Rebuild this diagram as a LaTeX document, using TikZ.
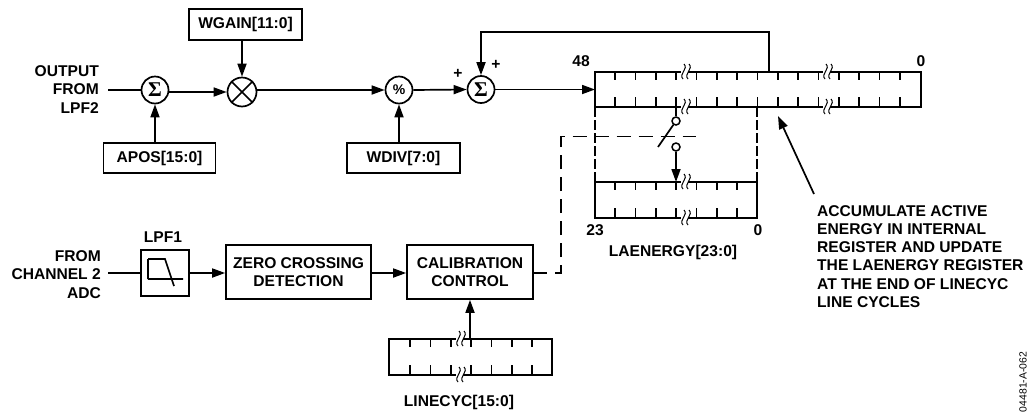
\documentclass[tikz,border=0pt]{standalone}
\usepackage{fontspec}
\setmainfont{Liberation Sans}
\newfontfamily\sigfont{Liberation Serif}
\usetikzlibrary{arrows.meta}
\tikzset{
  x=1pt,y=-1pt,
  wire/.style={line width=1.7pt,line cap=butt},
  flow/.style={wire,-{Triangle[length=13pt,width=9pt]}},
  dash line/.style={line width=1.1pt,dash pattern=on 14pt off 8pt},
  reg dash/.style={line width=1.6pt,dash pattern=on 10pt off 3pt},
  boxnode/.style={draw,line width=1.7pt,fill=white,inner sep=0pt,align=center,font=\lab},
  opnode/.style={draw,circle,line width=1.7pt,fill=white,inner sep=0pt,minimum size=27pt,font=\lab},
  txt/.style={inner sep=0pt,font=\lab},
  rtxt/.style={txt,align=right,anchor=east},
}
\newcommand{\lab}{\fontsize{15.6}{18.2}\selectfont\bfseries}
\newcommand{\sigsym}{{\sigfont\bfseries\fontsize{21}{21}\selectfont Σ}}
\newcommand{\regticks}[5]{% x first, y top, y bot, n, step
  \foreach \i in {0,...,#4}{
    \draw[wire] ({#1+\i*#5},#2) -- ++(0,8);
    \draw[wire] ({#1+\i*#5},#3) -- ++(0,-10);
  }}
\newcommand{\squig}[2]{% centre
  \fill[white] (#1-4,#2-7) rectangle (#1+3,#2+7);
  \draw[line width=1pt] (#1-1,#2-8) .. controls (#1+4,#2-3) and (#1-7,#2+2) .. (#1-2,#2+7);
  \draw[line width=1pt] (#1+4,#2-8) .. controls (#1+9,#2-3) and (#1-2,#2+2) .. (#1+3,#2+7);
}
\begin{document}
\begin{tikzpicture}
\useasboundingbox (0,0) rectangle (1028,413);
% operators
\node[opnode] (s1) at (155,90) {\sigsym};
\node[opnode,minimum size=29pt] (mul) at (242,92) {};
\draw[wire] (mul.north west) -- (mul.south east) (mul.north east) -- (mul.south west);
\node[opnode] (pct) at (399,90) {\fontsize{14}{14}\selectfont\bfseries \%};
\node[opnode] (s2) at (481,89.5) {\sigsym};
% boxes
\node[boxnode,minimum width=113pt,minimum height=31pt] (wgain) at (245.5,24.5) {WGAIN[11:0]};
\node[boxnode,minimum width=112pt,minimum height=30pt] (apos) at (159.5,158) {APOS[15:0]};
\node[boxnode,minimum width=113pt,minimum height=30pt] (wdiv) at (403.5,158) {WDIV[7:0]};
\node[boxnode,minimum width=48pt,minimum height=46pt] (lpf) at (165,273) {};
\node[boxnode,minimum width=145pt,minimum height=54pt] (zero) at (298.5,272) {ZERO CROSSING\\DETECTION};
\node[boxnode,minimum width=126pt,minimum height=54pt] (cal) at (470,272) {CALIBRATION\\CONTROL};
% filter icon
\draw[wire] (148,259) -- (148,279) (148,279) -- (183,279) (148,259) -- (165,259) -- (174,286);
% registers (frames)
\coordinate (rtl) at (595,72); \coordinate (rtr) at (921,72);
\coordinate (rbl) at (595,107); \coordinate (rbr) at (921,107);
\coordinate (rbm) at (757,107);
\draw[wire] (rtl) -- (rtr) -- (rbr) -- (rbl) -- cycle;
\regticks{615}{72}{107}{14}{20.35}
\coordinate (ltl) at (595,182); \coordinate (ltr) at (757,182);
\coordinate (lbl) at (595,218); \coordinate (lbr) at (757,218);
\draw[wire] (ltl) -- (ltr) -- (lbr) -- (lbl) -- cycle;
\regticks{615}{182}{218}{6}{20.35}
\coordinate (cn) at (470,339);
\draw[wire] (389,339) rectangle (552,375);
\regticks{410}{339}{375}{6}{20.35}
\squig{685}{72}\squig{685}{107}\squig{827}{72}\squig{827}{107}
\squig{685}{182}\squig{685}{218}
\squig{460}{339}\squig{460}{375}
% connectors
\coordinate (in1) at (108,90);
\draw[wire] (in1) -- (s1);
\draw[flow] (s1.east |- mul.west) -- (mul.west);
\draw[flow] (apos.north -| s1.south) -- (s1.south);
\draw[flow] (wgain.south -| mul.north) -- (mul.north);
\draw[flow] (mul.east |- pct.west) -- (pct.west);
\draw[flow] (wdiv.north -| pct.south) -- (pct.south);
\draw[flow] (pct.east) -- (s2.west);
\coordinate (regin) at (595,89.5);
\draw[flow] (s2.east) -- (regin);
\coordinate (fb) at (769,72);
\draw[flow] (fb) -- (769,32) -- (481,32) -- (s2.north);
\coordinate (in2) at (108,273);
\draw[wire] (in2) -- (lpf.west |- in2);
\draw[flow] (lpf.east |- in2) -- (zero.west |- in2);
\draw[flow] (zero.east |- in2) -- (cal.west |- in2);
\draw[flow] (cn) -- (cal.south -| cn);
% switch
\node[draw,circle,line width=1.5pt,fill=white,inner sep=0pt,minimum size=8pt] (swa) at (676,121) {};
\node[draw,circle,line width=1.5pt,fill=white,inner sep=0pt,minimum size=8pt] (swb) at (676,147) {};
\coordinate (tap) at (676,107);
\coordinate (armend) at (658,147);
\draw[wire] (tap) -- (swa);
\draw[wire] (swa) -- (armend);
\draw[flow] (swb) -- (676,182);
% dashed
\draw[reg dash] (rbl) -- (ltl);
\draw[reg dash] (rbm) -- (ltr);
\coordinate (d0) at (533,273);
\coordinate (d3) at (696,136.5);
\draw[dash line] (d0) -- (561,273) -- (561,136.5) -- (d3);
% annotation arrow
\coordinate (a0) at (814,194); \coordinate (a1) at (778,116);
\draw[flow] (a0) -- (a1);
% labels
\node[rtxt] (t1) at (99,89.5) {OUTPUT\\FROM\\LPF2};
\node[rtxt] (t2) at (101,274.5) {FROM\\CHANNEL 2\\ADC};
\node[txt] (t3) at (163,237) {LPF1};
\node[txt] (t4) at (581,61) {48};
\node[txt] (t5) at (921,61) {0};
\node[txt] (t6) at (595,230) {23};
\node[txt] (t7) at (758,230) {0};
\node[txt] (t8) at (673,252) {LAENERGY[23:0]};
\node[txt] (t9) at (459,402) {LINECYC[15:0]};
\node[txt] (p1) at (458,74) {+};
\node[txt] (p2) at (496,65) {+};
\node[txt,align=left,anchor=west] (t10) at (817,256.5) {ACCUMULATE ACTIVE\\ENERGY IN INTERNAL\\REGISTER AND UPDATE\\THE LAENERGY REGISTER\\AT THE END OF LINECYC\\LINE CYCLES};
\node[inner sep=0pt,rotate=90,font=\fontsize{10.4}{10.4}\selectfont] (t11) at (1023,382) {04481-A-062};
\end{tikzpicture}
\end{document}
